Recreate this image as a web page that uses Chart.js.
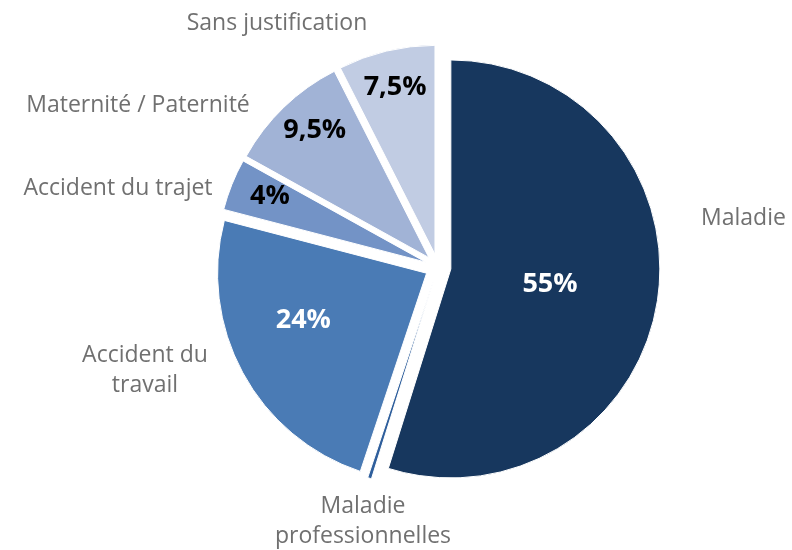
<!DOCTYPE html>
<html>
<head>
<meta charset="utf-8">
<title>Répartition des absences</title>
<script src="https://cdn.jsdelivr.net/npm/chart.js@4.4.0/dist/chart.umd.min.js"></script>
<style>
  html, body { margin: 0; padding: 0; background: #ffffff; }
  #wrap { width: 792px; height: 550px; }
</style>
</head>
<body>
<div id="wrap"><canvas id="chart" width="792" height="550"></canvas></div>
<script>
// Categories, clockwise from 12 o'clock
const categories = [
  'Maladie',
  ['Maladie', 'professionnelles'],
  ['Accident du', 'travail'],
  'Accident du trajet',
  'Maternité / Paternité',
  'Sans justification'
];
const shares = [55, 0.3, 24, 4, 9.5, 7.5];
const shareLabels = ['55%', '', '24%', '4%', '9,5%', '7,5%'];

const sliceColors = ['#17375e', '#2f5f9c', '#4a7bb5', '#7393c6', '#a1b3d6', '#c1cce3'];
const valueColors = ['#ffffff', '#ffffff', '#ffffff', '#000000', '#000000', '#000000'];
// where the value sits: fraction of the radius out from the tip, and a small turn (degrees)
const valueDepth = [0.48, 0, 0.63, 0.81, 0.82, 0.82];
const valueTurn = [0, 0, 7, 1, 2, 0];
// category label anchors, relative to the pie centre
const nameSpots = [
  { dx: 263, dy: -49, align: 'left' },
  { dx: -75, dy: 239, align: 'center' },
  { dx: -293, dy: 88, align: 'center' },
  { dx: -320, dy: -79, align: 'center' },
  { dx: -300, dy: -162, align: 'center' },
  { dx: -161, dy: -244, align: 'center' }
];

const FONT = '"Open Sans", sans-serif';
const EXPLODE = 13; // every slice pushed out by this many px along its bisector

// Chart.js' own offset also trims the arc angles, so slide the slices out ourselves
const explodedPie = {
  id: 'explodedPie',
  beforeDatasetsDraw(chart) {
    const ctx = chart.ctx;
    chart.getDatasetMeta(0).data.forEach(arc => {
      const mid = (arc.startAngle + arc.endAngle) / 2;
      ctx.save();
      ctx.translate(Math.cos(mid) * EXPLODE, Math.sin(mid) * EXPLODE);
      arc.draw(ctx);
      ctx.restore();
    });
    return false;
  },
  afterDraw(chart) {
    const ctx = chart.ctx;
    const arcs = chart.getDatasetMeta(0).data;
    ctx.save();
    ctx.textBaseline = 'middle';
    arcs.forEach((arc, i) => {
      const { x, y, startAngle, endAngle, outerRadius } = arc.getProps(['x', 'y', 'startAngle', 'endAngle', 'outerRadius'], true);
      const mid = (startAngle + endAngle) / 2 + valueTurn[i] * Math.PI / 180;

      // value inside the slice
      if (shareLabels[i]) {
        const r = EXPLODE + valueDepth[i] * outerRadius;
        ctx.font = 'bold 27px ' + FONT;
        ctx.fillStyle = valueColors[i];
        ctx.textAlign = 'center';
        ctx.fillText(shareLabels[i], x + Math.cos(mid) * r, y + Math.sin(mid) * r);
      }

      // category name outside
      const spot = nameSpots[i];
      const lines = Array.isArray(categories[i]) ? categories[i] : [categories[i]];
      ctx.font = '23px ' + FONT;
      ctx.fillStyle = '#707070';
      ctx.textAlign = spot.align;
      lines.forEach((line, k) => {
        ctx.fillText(line, x + spot.dx, y + spot.dy + k * 30);
      });
    });
    ctx.restore();
  }
};

new Chart(document.getElementById('chart'), {
  type: 'pie',
  data: {
    labels: categories,
    datasets: [{
      data: shares,
      backgroundColor: sliceColors,
      borderColor: '#ffffff',
      borderWidth: 1,
      radius: 209
    }]
  },
  options: {
    responsive: false,
    animation: false,
    layout: { padding: { left: 84, right: 0, top: 0, bottom: 16 } },
    plugins: {
      legend: { display: false },
      tooltip: { enabled: false }
    }
  },
  plugins: [explodedPie]
});
</script>
</body>
</html>
